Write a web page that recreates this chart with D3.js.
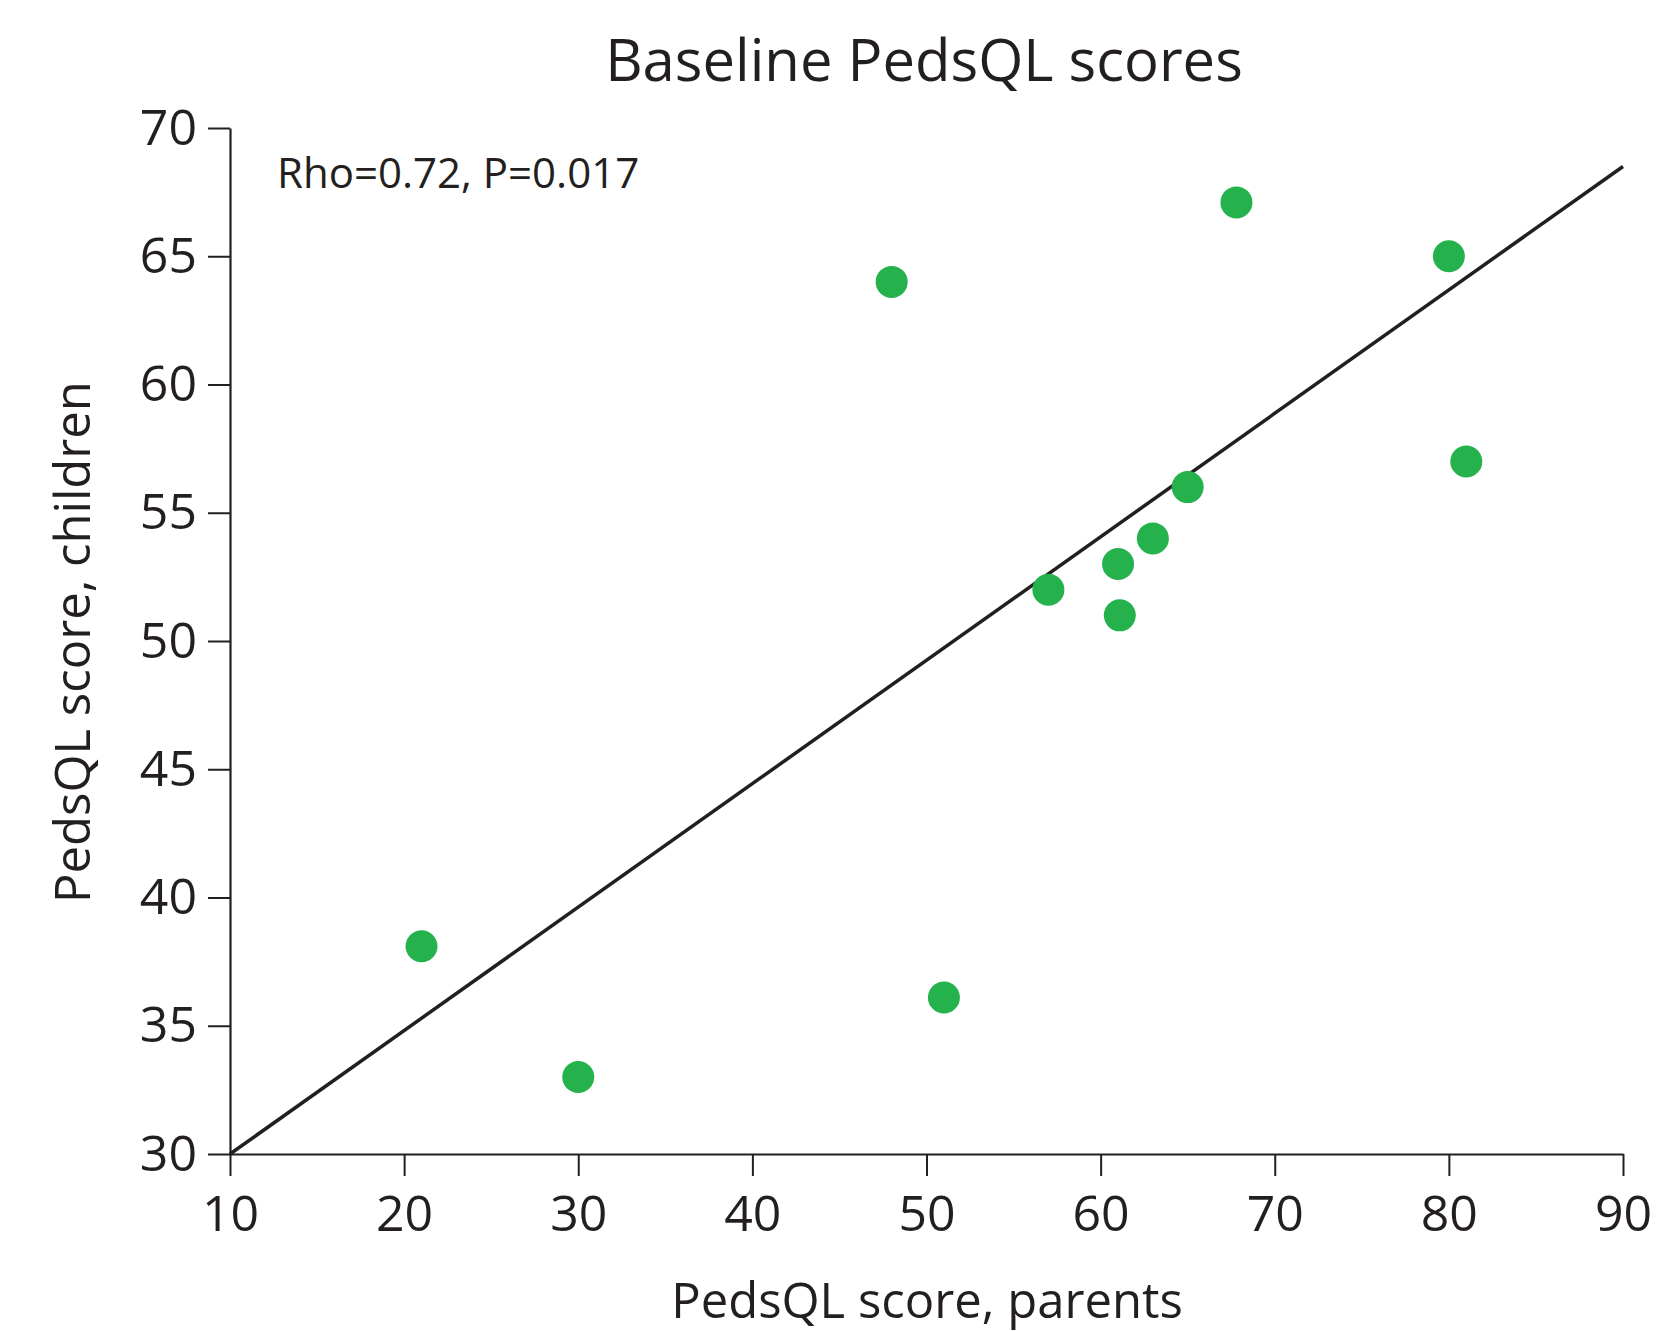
<!DOCTYPE html>
<html>
<head>
<meta charset="utf-8">
<script src="https://cdn.jsdelivr.net/npm/d3@7"></script>
<style>
  body { margin: 0; background: #fff; }
  svg text { font-family: "Open Sans", "Lato", sans-serif; fill: #231f20; }
</style>
</head>
<body>
<div class="chart"></div>
<script>
// PedsQL scores, parents (x) vs children (y)
var parentScores = [21, 30, 48, 51, 57, 61, 61.1, 63, 65, 67.8, 80, 81];
var childScores  = [38.1, 33, 64, 36.1, 52, 53, 51, 54, 56, 67.1, 65, 57];
var fitX = [10, 90];
var fitY = [30, 68.5];
var xTicks = [10, 20, 30, 40, 50, 60, 70, 80, 90];
var yTicks = [30, 35, 40, 45, 50, 55, 60, 65, 70];

var W = 1659, H = 1331;
var ink = '#231f20';
var green = '#25b24c';

var svg = d3.select('.chart')
    .append('svg')
    .attr('width', W)
    .attr('height', H);

var x = d3.scaleLinear().domain([10, 90]).range([230, 1623]);
var y = d3.scaleLinear().domain([30, 70]).range([1154, 128]);

// axes
var gx = svg.append('g')
    .attr('transform', 'translate(0,' + y(30) + ')')
    .call(d3.axisBottom(x).tickValues(xTicks).tickSize(22).tickSizeOuter(0).tickPadding(19));
var gy = svg.append('g')
    .attr('transform', 'translate(' + x(10) + ',0)')
    .call(d3.axisLeft(y).tickValues(yTicks).tickSize(22).tickSizeOuter(0).tickPadding(11));

[gx, gy].forEach(function(g){
    g.select('.domain').attr('stroke', ink).attr('stroke-width', 2.2);
    g.selectAll('.tick line').attr('stroke', ink).attr('stroke-width', 2);
    g.selectAll('.tick text')
        .style('font-size', '50px')
        .attr('fill', ink);
});

// fit line
var line = d3.line()
    .x(function(d){ return x(d[0]); })
    .y(function(d){ return y(d[1]); });
svg.append('path')
    .datum(d3.zip(fitX, fitY))
    .attr('d', line)
    .attr('fill', 'none')
    .attr('stroke', ink)
    .attr('stroke-width', 3.5);

// points
svg.append('g').selectAll('circle')
    .data(d3.zip(parentScores, childScores))
    .enter().append('circle')
    .attr('cx', function(d){ return x(d[0]); })
    .attr('cy', function(d){ return y(d[1]); })
    .attr('r', 16)
    .attr('fill', green);

// texts
svg.append('text')
    .attr('x', 924).attr('y', 81)
    .attr('text-anchor', 'middle')
    .style('font-size', '58px')
    .text('Baseline PedsQL scores');

svg.append('text')
    .attr('x', 277).attr('y', 188)
    .style('font-size', '42px')
    .text('Rho=0.72, P=0.017');

svg.append('text')
    .attr('x', 927).attr('y', 1318)
    .attr('text-anchor', 'middle')
    .style('font-size', '49px')
    .text('PedsQL score, parents');

svg.append('text')
    .attr('transform', 'translate(90,642) rotate(-90)')
    .attr('text-anchor', 'middle')
    .style('font-size', '49px')
    .text('PedsQL score, children');
</script>
</body>
</html>
